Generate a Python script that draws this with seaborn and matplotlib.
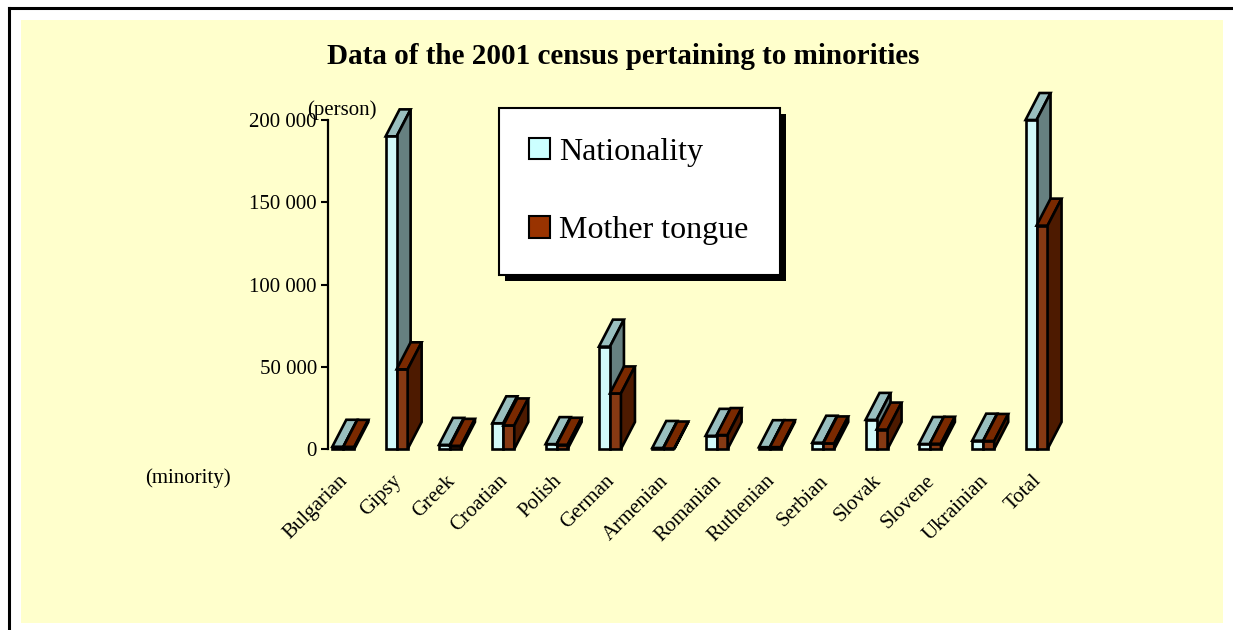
import matplotlib.pyplot as plt
import seaborn as sns
import pandas as pd
from matplotlib.patches import Polygon, Patch, Rectangle
from matplotlib.lines import Line2D
from matplotlib.transforms import ScaledTranslation, IdentityTransform

# data (persons)
minorities = ["Bulgarian", "Gipsy", "Greek", "Croatian", "Polish", "German", "Armenian",
              "Romanian", "Ruthenian", "Serbian", "Slovak", "Slovene", "Ukrainian", "Total"]
nationality = [1358, 190046, 2509, 15620, 2962, 62233, 620,
               7995, 1098, 3816, 17693, 3040, 5070, 200000]
mother_tongue = [1299, 48438, 1921, 14326, 2580, 33774, 294,
                 8482, 1113, 3388, 11817, 3180, 4885, 135788]
series_names = ["Nationality", "Mother tongue"]
y_ticks = [0, 50000, 100000, 150000, 200000]
y_tick_labels = ["0", "50 000", "100 000", "150 000", "200 000"]

# front / top / side shades for each series
front_colors = ["#CCFFFF", "#993300"]
top_colors = ["#99BFBF", "#7A2900"]
side_colors = ["#668080", "#4D1A00"]

df = pd.DataFrame({
    "minority": minorities * 2,
    "persons": nationality + mother_tongue,
    "series": [series_names[0]] * len(minorities) + [series_names[1]] * len(minorities),
})

plt.rcParams["font.family"] = ["Liberation Serif", "DejaVu Serif"]

W, H = 1233, 630
fig = plt.figure(figsize=(W / 100, H / 100), dpi=100)
fig.patch.set_facecolor("white")

# yellow chart area and the black frame
fig.add_artist(Rectangle((21 / W, 1 - 623 / H), 1202 / W, 603 / H, transform=fig.transFigure,
                         facecolor="#FFFFCC", edgecolor="none", zorder=-2))
fig.add_artist(Line2D([9 / W, 1], [1 - 8 / H, 1 - 8 / H], transform=fig.transFigure,
                      color="black", lw=2.2, zorder=-1))
fig.add_artist(Line2D([9 / W, 9 / W], [0, 1 - 8 / H], transform=fig.transFigure,
                      color="black", lw=2.2, zorder=-1))

ax = fig.add_axes([328 / W, 1 - 449 / H, 772 / W, 329 / H])
ax.set_facecolor("none")

sns.barplot(data=df, x="minority", y="persons", hue="series", palette=front_colors,
            width=0.413, edgecolor="black", linewidth=1.9, legend=False, ax=ax)

ax.set_xlim(-0.287, 14.19)
ax.set_ylim(0, 200000)

# depth of the pseudo 3D bars, in pixels converted to data units
p0 = ax.transData.transform((0, 0))
p1 = ax.transData.transform((1, 1))
dx = 14 / (p1[0] - p0[0])
dy = 27 / (p1[1] - p0[1])

for s, cont in enumerate(ax.containers):
    for bar in cont:
        bar.set_zorder(3 + 2 * s)
        bar.set_clip_on(False)
        x0 = bar.get_x()
        x1 = x0 + bar.get_width()
        h = bar.get_height()
        top = Polygon([(x0, h), (x1, h), (x1 + dx, h + dy), (x0 + dx, h + dy)], closed=True,
                      facecolor=top_colors[s], edgecolor="black", lw=1.9,
                      zorder=2 + 3 * s, clip_on=False)
        side = Polygon([(x1, 0), (x1 + dx, dy), (x1 + dx, h + dy), (x1, h)], closed=True,
                       facecolor=side_colors[s], edgecolor="black", lw=1.9,
                       zorder=2 + 3 * s, clip_on=False)
        ax.add_patch(top)
        ax.add_patch(side)

for sp in ["top", "right", "bottom"]:
    ax.spines[sp].set_visible(False)
ax.spines["left"].set_linewidth(1.6)

ax.set_yticks(y_ticks)
ax.set_yticklabels(y_tick_labels, fontsize=15)
ax.tick_params(axis="y", length=5, width=1.5, direction="out", pad=3)

ax.set_xticks(range(len(minorities)))
ax.set_xticklabels(minorities, rotation=45, ha="right", va="center",
                   rotation_mode="anchor", fontsize=15)
ax.tick_params(axis="x", length=0, pad=21)
for lbl in ax.get_xticklabels():
    lbl.set_transform(lbl.get_transform() + ScaledTranslation(1.5 / 72, 0, fig.dpi_scale_trans))

ax.set_xlabel("")
ax.set_ylabel("")

fig.text(623 / W, 1 - 57 / H, "Data of the 2001 census pertaining to minorities",
         ha="center", va="center", fontsize=21, fontweight="bold")
fig.text(307 / W, 1 - 110 / H, "(person)", ha="left", va="center", fontsize=15)
fig.text(145 / W, 1 - 478 / H, "(minority)", ha="left", va="center", fontsize=15)

handles = [Patch(facecolor=c, edgecolor="black", lw=1.5) for c in front_colors]
leg = ax.legend(handles, series_names, loc="upper left", mode="expand", ncol=1,
                bbox_to_anchor=(499 / W, 1 - 272 / H, 281 / W, 164 / H),
                bbox_transform=fig.transFigure, borderaxespad=0, fontsize=23,
                frameon=True, fancybox=False, framealpha=1, edgecolor="black",
                borderpad=0.93, labelspacing=1.55, handlelength=0.66, handleheight=0.66,
                handletextpad=0.28)
leg.get_frame().set_linewidth(1.5)

# drop shadow behind the legend box
fig.canvas.draw()
bb = leg.get_window_extent()
fig.add_artist(Rectangle((bb.x0 + 6, bb.y0 - 6), bb.width, bb.height, transform=IdentityTransform(),
                         facecolor="black", edgecolor="none", zorder=-0.5))

fig.savefig("out.png", dpi=100)
